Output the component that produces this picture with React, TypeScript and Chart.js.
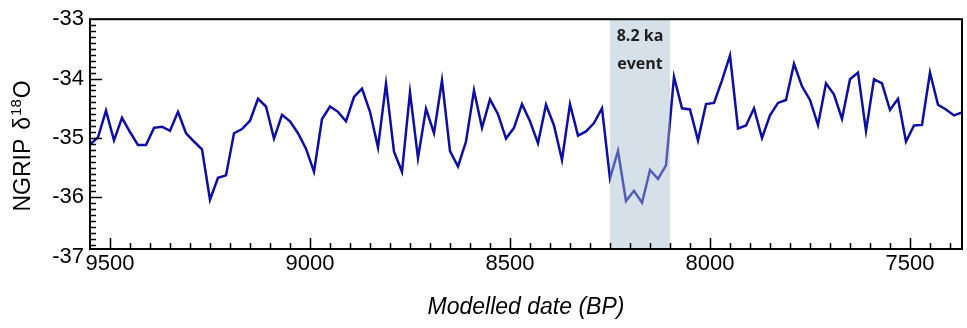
import React, { useEffect, useRef } from 'react';
import { Chart, registerables } from 'chart.js';

Chart.register(...registerables);

// ---- data ----
const years = [
  9550, 9530, 9510, 9490, 9470, 9450, 9430, 9410, 9390, 9370,
  9350, 9330, 9310, 9290, 9270, 9250, 9230, 9210, 9190, 9170,
  9150, 9130, 9110, 9090, 9070, 9050, 9030, 9010, 8990, 8970,
  8950, 8930, 8910, 8890, 8870, 8850, 8830, 8810, 8790, 8770,
  8750, 8730, 8710, 8690, 8670, 8650, 8630, 8610, 8590, 8570,
  8550, 8530, 8510, 8490, 8470, 8450, 8430, 8410, 8390, 8370,
  8350, 8330, 8310, 8290, 8270, 8250, 8230, 8210, 8190, 8170,
  8150, 8130, 8110, 8090, 8070, 8050, 8030, 8010, 7990, 7970,
  7950, 7930, 7910, 7890, 7870, 7850, 7830, 7810, 7790, 7770,
  7750, 7730, 7710, 7690, 7670, 7650, 7630, 7610, 7590, 7570,
  7550, 7530, 7510, 7490, 7470, 7450, 7430, 7410, 7390, 7370,
];

const d18O = [
  -35.11, -34.99, -34.54, -35.04, -34.66, -34.90, -35.12, -35.12, -34.83, -34.81,
  -34.88, -34.56, -34.92, -35.06, -35.19, -36.04, -35.67, -35.63, -34.92, -34.85,
  -34.71, -34.34, -34.47, -35.01, -34.61, -34.72, -34.92, -35.18, -35.57, -34.68,
  -34.47, -34.56, -34.72, -34.31, -34.17, -34.56, -35.16, -34.09, -35.23, -35.57,
  -34.23, -35.34, -34.51, -34.92, -34.03, -35.22, -35.48, -35.06, -34.20, -34.83,
  -34.35, -34.60, -35.01, -34.83, -34.43, -34.72, -35.09, -34.44, -34.79, -35.37,
  -34.43, -34.96, -34.89, -34.75, -34.50, -35.68, -35.22, -36.06, -35.89, -36.09,
  -35.54, -35.69, -35.46, -33.97, -34.50, -34.52, -35.04, -34.43, -34.41, -34.03,
  -33.61, -34.84, -34.79, -34.50, -35.00, -34.62, -34.41, -34.36, -33.75, -34.13,
  -34.36, -34.78, -34.08, -34.27, -34.68, -34.01, -33.90, -34.88, -34.01, -34.08,
  -34.53, -34.34, -35.06, -34.79, -34.78, -33.90, -34.44, -34.52, -34.62, -34.57,
];

const xTickValues = [9500, 9000, 8500, 8000, 7500];
const yTickValues = [-37, -36, -35, -34, -33];
const xMin = 7370;
const xMax = 9550;
const yMin = -36.87;
const yMax = -33;
const xMinorStep = 50;
const yMinorStep = 0.1;
const eventStart = 8250;
const eventEnd = 8100;
const eventLabel = ['8.2 ka', 'event'];
const xTitle = 'Modelled date (BP)';
const yTitleParts = ['NGRIP', 'δ', '18', 'O'];

const FONT = '"Liberation Sans", Arial, Helvetica, sans-serif';
const LINE_COLOR = '#0e0ea2';

const overlay = {
  id: 'overlay',
  afterDatasetsDraw(chart: any) {
    const { ctx, chartArea: a, scales } = chart;
    const xs = scales.x;
    const x1 = xs.getPixelForValue(eventStart);
    const x2 = xs.getPixelForValue(eventEnd);
    ctx.save();
    ctx.fillStyle = 'rgba(166,188,205,0.46)';
    ctx.fillRect(Math.min(x1, x2), a.top, Math.abs(x2 - x1), a.bottom - a.top);
    ctx.fillStyle = '#1e1e1e';
    ctx.font = 'bold 16px "Open Sans", "Noto Sans", sans-serif';
    ctx.textAlign = 'center';
    ctx.textBaseline = 'alphabetic';
    const cx = (x1 + x2) / 2;
    ctx.fillText(eventLabel[0], cx, a.top + 22);
    ctx.fillText(eventLabel[1], cx, a.top + 50);
    ctx.restore();
  },
  afterDraw(chart: any) {
    const { ctx, chartArea: a, scales } = chart;
    const xs = scales.x;
    const ys = scales.y;
    ctx.save();
    ctx.strokeStyle = '#000';
    // inward ticks on y axis
    ctx.lineWidth = 1.5;
    ctx.beginPath();
    const nY = Math.round((yMax - yMin) / yMinorStep);
    for (let i = 1; i <= nY; i++) {
      const v = Math.round((yMax - i * yMinorStep) * 10) / 10;
      if (v <= yMin) break;
      const py = Math.round(ys.getPixelForValue(v)) + 0.5;
      const major = Math.abs(v - Math.round(v)) < 1e-6;
      ctx.moveTo(a.left, py);
      ctx.lineTo(a.left + (major ? 12 : 6), py);
    }
    // inward ticks on x axis
    for (let v = xMax; v >= xMin; v -= xMinorStep) {
      if (v === xMax) continue;
      const px = Math.round(xs.getPixelForValue(v)) + 0.5;
      const major = v % 500 === 0;
      ctx.moveTo(px, a.bottom);
      ctx.lineTo(px, a.bottom - (major ? 11 : 6));
    }
    ctx.stroke();
    // frame
    ctx.lineWidth = 2;
    ctx.strokeRect(a.left, a.top, a.right - a.left, a.bottom - a.top);
    // y-axis title with superscript
    ctx.fillStyle = '#000';
    ctx.textBaseline = 'alphabetic';
    ctx.textAlign = 'left';
    const mainFont = `23px ${FONT}`;
    const supFont = `15px ${FONT}`;
    const gap = 9;
    ctx.font = mainFont;
    const w0 = ctx.measureText(yTitleParts[0]).width;
    const w1 = ctx.measureText(yTitleParts[1]).width;
    const w3 = ctx.measureText(yTitleParts[3]).width;
    ctx.font = supFont;
    const w2 = ctx.measureText(yTitleParts[2]).width;
    const total = w0 + gap + w1 + 1 + w2 + 1 + w3;
    ctx.translate(30, 146);
    ctx.rotate(-Math.PI / 2);
    let sx = -total / 2;
    ctx.font = mainFont;
    ctx.fillText(yTitleParts[0], sx, 0);
    sx += w0 + gap;
    ctx.fillText(yTitleParts[1], sx, 0);
    sx += w1 + 1;
    ctx.font = supFont;
    ctx.fillText(yTitleParts[2], sx, -9);
    sx += w2 + 1;
    ctx.font = mainFont;
    ctx.fillText(yTitleParts[3], sx, 0);
    ctx.restore();
  },
};

export default function App() {
  const ref = useRef<HTMLCanvasElement>(null);
  useEffect(() => {
    const canvas = ref.current;
    if (!canvas) return;
    const points = years.map((yr, i) => ({ x: yr, y: d18O[i] }));
    const chart = new Chart(canvas, {
      type: 'line',
      data: {
        datasets: [
          {
            label: 'NGRIP δ18O',
            data: points,
            borderColor: LINE_COLOR,
            borderWidth: 2.5,
            pointRadius: 0,
            tension: 0,
            fill: false,
          },
        ],
      },
      options: {
        animation: false,
        responsive: false,
        maintainAspectRatio: false,
        events: [],
        layout: { padding: { top: 17, right: 5, left: 0, bottom: 0 } },
        plugins: {
          legend: { display: false },
          tooltip: { enabled: false },
          title: { display: false },
        },
        scales: {
          x: {
            type: 'linear',
            reverse: true,
            min: xMin,
            max: xMax,
            afterFit: (s: any) => {
              s.height = 79;
            },
            afterBuildTicks: (s: any) => {
              s.ticks = xTickValues.map((v) => ({ value: v }));
            },
            grid: { display: false, drawTicks: false },
            border: { display: false },
            ticks: {
              callback: (v: any) => String(v),
              font: { family: FONT, size: 22 },
              color: '#000',
              padding: 2,
              maxRotation: 0,
              autoSkip: false,
            },
            title: {
              display: true,
              text: xTitle,
              font: { family: FONT, size: 23, style: 'italic' },
              color: '#000',
              padding: { top: 0, bottom: 7 },
            },
          },
          y: {
            type: 'linear',
            min: yMin,
            max: yMax,
            afterFit: (s: any) => {
              s.width = 90;
            },
            afterBuildTicks: (s: any) => {
              s.ticks = yTickValues.map((v) => ({ value: v }));
            },
            grid: { display: false, drawTicks: false },
            border: { display: false },
            ticks: {
              callback: (v: any) => String(v),
              font: { family: FONT, size: 22 },
              color: '#000',
              padding: 6,
              autoSkip: false,
            },
          },
        },
      },
      plugins: [overlay],
    });
    return () => chart.destroy();
  }, []);
  return (
    <div style={{ position: 'absolute', left: 0, top: 0, width: 967, height: 328, background: '#fff' }}>
      <canvas ref={ref} width={967} height={328} style={{ display: 'block', width: 967, height: 328 }} />
    </div>
  );
}
